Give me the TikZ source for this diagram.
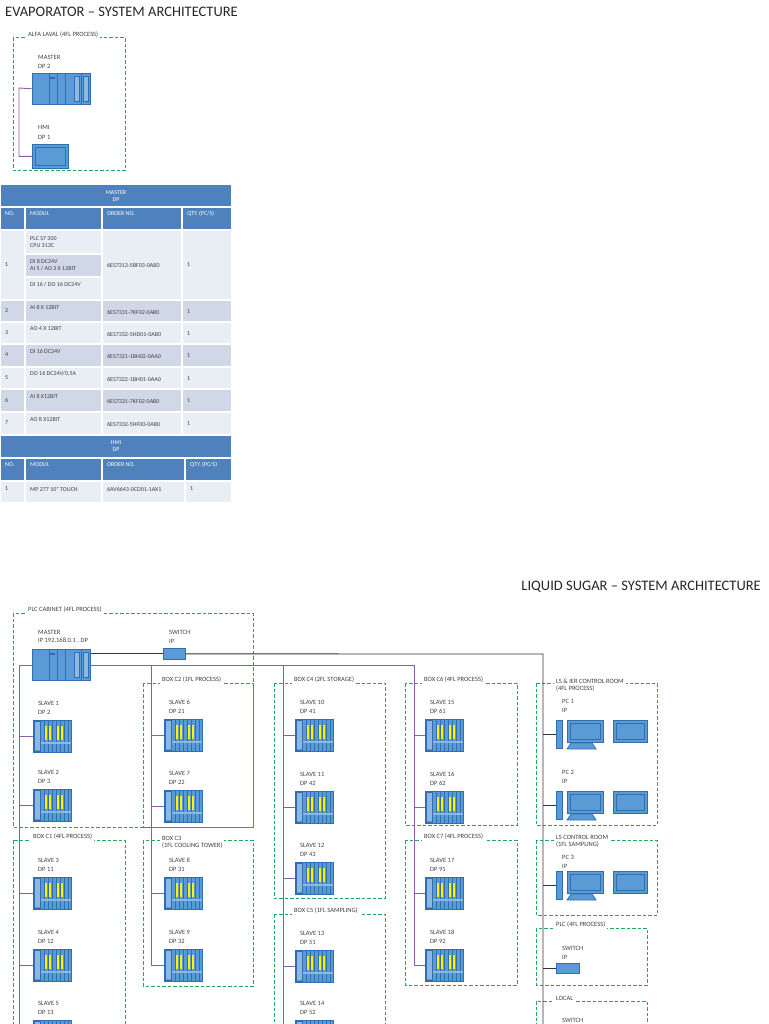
\documentclass[tikz,border=0pt]{standalone}
\usepackage{fontspec}
\setmainfont{Carlito}
\definecolor{plcb}{HTML}{5B9BD5}
\definecolor{plcd}{HTML}{2F6EB5}
\definecolor{plcl}{HTML}{8DB8E2}
\definecolor{grn}{HTML}{1FAA5A}
\definecolor{purp}{HTML}{8B5DAA}
\definecolor{thd}{HTML}{4F81BD}
\definecolor{tlt}{HTML}{E9EDF4}
\definecolor{tmd}{HTML}{D0D8E8}
\definecolor{txt}{HTML}{404040}
\tikzset{
 lbl/.style={anchor=west,text=txt,font=\fontsize{6.5}{7.5}\selectfont,inner sep=0pt},
 zone/.style={draw=grn,line width=1pt,dash pattern=on 3.5pt off 2pt},
 zlbl/.style={anchor=south west,fill=white,text=txt,font=\fontsize{6.5}{7.5}\selectfont,inner xsep=2pt,inner ysep=2pt,align=left},
 slavebox/.style={draw=plcd,fill=plcb,minimum width=38pt,minimum height=32pt,inner sep=0pt,line width=0.6pt},
 masterbox/.style={draw=plcd,fill=plcb,minimum width=58pt,minimum height=31pt,inner sep=0pt,line width=0.6pt},
 purpl/.style={draw=purp,line width=0.9pt},
 blk/.style={draw=black!80,line width=0.9pt},
 tcell/.style={draw=white,line width=1.2pt},
 thtxt/.style={text=white,font=\fontsize{6}{7}\selectfont,inner sep=0pt,align=center},
 ttxt/.style={anchor=west,text=txt,font=\fontsize{6}{7}\selectfont,inner sep=0pt,align=left},
 pcpart/.style={draw=plcd,fill=plcb,line width=0.8pt},
}
\newcommand\slv[3]{%
 \node[slavebox,anchor=north west] (#1) at (#2,#3) {};
 \begin{scope}[shift={(#2,#3)}]
  \fill[plcl] (1,2) rectangle (7,30);
  \draw[plcd,line width=0.5pt] (1,1) rectangle (7,31);
  \foreach \xx in {11,15,19,23,27,31,35} \draw[plcd,line width=0.5pt] (\xx,0)--(\xx,32);
  \fill[plcl] (7.5,22) rectangle (37.5,24);
  \foreach \xx in {12,16,24,28} \fill[yellow] (\xx,6) rectangle (\xx+2.2,20);
 \end{scope}}
\newcommand\mstr[3]{%
 \node[masterbox,anchor=north west] (#1) at (#2,#3) {};
 \begin{scope}[shift={(#2,#3)}]
  \foreach \xx in {17,25,33,49} \draw[plcd,line width=0.5pt] (\xx,0)--(\xx,31);
  \fill[plcl] (42,3) rectangle (47,28);
  \fill[plcl] (51,3) rectangle (56,28);
  \draw[plcd,line width=0.5pt] (42,3) rectangle (47,28) (51,3) rectangle (56,28);
  \fill[plcd] (18,4) rectangle (23,6);
 \end{scope}}
\newcommand\pcu[3]{%
 \node[pcpart,anchor=north west,minimum width=6pt,minimum height=28pt,inner sep=0pt] (#1) at (#2,#3) {};
 \begin{scope}[shift={(#2,#3)}]
  \draw[pcpart] (15,23) -- (36,23) -- (40,29) -- (11,29) -- cycle;
  \draw[pcpart] (11,0) rectangle (47,22);
  \draw[plcd,line width=0.6pt] (14,3) rectangle (44,19);
  \draw[pcpart] (57,0) rectangle (91,22);
  \draw[plcd,line width=0.6pt] (60,3) rectangle (88,19);
 \end{scope}}
\begin{document}
\begin{tikzpicture}[x=1pt,y=-1pt]
\useasboundingbox (0,0) rectangle (768,1024);
% ---------- Evaporator ----------
\node[anchor=west,inner sep=0pt,font=\fontsize{14.5}{16}\selectfont,text=black!85] (t1) at (5,12) {EVAPORATOR -- SYSTEM ARCHITECTURE};
\draw[zone] (13,38) rectangle (125,171);
\node[zlbl] (z0) at (26,40) {ALFA LAVAL (4FL PROCESS)};
\node[lbl] (m0a) at (38,57) {MASTER};
\node[lbl] (m0b) at (38,66) {DP 2};
\mstr{m0}{32}{73}
\node[lbl] (h0a) at (38,127) {HMI};
\node[lbl] (h0b) at (38,137) {DP 1};
\node[pcpart,anchor=north west,minimum width=36pt,minimum height=24pt,inner sep=0pt] (hmi) at (32,144) {};
\draw[plcd,line width=0.6pt] (35,147) rectangle (65,165);
\draw[purpl] (m0.west) -- (19,88) |- (hmi.west);
% ---------- Table ----------
\fill[thd] (0,184) rectangle (232,207);
\draw[tcell] (0,184) rectangle (232,207);
\node[thtxt] (th1) at (116,196) {MASTER\\DP};
\foreach \a/\b/\t in {0/25/NO., 25/102/MODUL, 102/182/ORDER NO., 182/232/{QTY. (PC/S)}} {
  \draw[tcell,fill=thd] (\a,207) rectangle (\b,230);
  \node[ttxt,text=white] at (\a+5,214) {\t};
}
\draw[tcell,fill=tlt] (0,230) rectangle (25,300);
\draw[tcell,fill=tlt] (25,230) rectangle (102,254);
\draw[tcell,fill=tmd] (25,254) rectangle (102,277);
\draw[tcell,fill=tlt] (25,277) rectangle (102,300);
\draw[tcell,fill=tlt] (102,230) rectangle (182,300);
\draw[tcell,fill=tlt] (182,230) rectangle (232,300);
\node[ttxt] at (5,265) {1};
\node[ttxt] at (30,242) {PLC S7 300\\CPU 313C};
\node[ttxt] at (30,265) {DI 8 DC24V\\AI 5 / AO 2 X 12BIT};
\node[ttxt] at (30,285) {DI 16 / DO 16 DC24V};
\node[ttxt] at (107,265) {6ES7313-5BF03-0AB0};
\node[ttxt] at (187,265) {1};
\foreach \n/\ya/\yb/\m/\o/\c in {2/300/322/{AI 8 X  12BIT}/{6ES7331-7KF02-0AB0}/tmd,
  3/322/344/{AO 4 X 12BIT}/{6ES7332-5HD01-0AB0}/tlt,
  4/344/367/{DI 16 DC24V}/{6ES7321-1BH02-0AA0}/tmd,
  5/367/389/{DO 16 DC24V/0,5A}/{6ES7322-1BH01-0AA0}/tlt,
  6/389/412/{AI 8 X12BIT}/{6ES7331-7KF02-0AB0}/tmd,
  7/412/435/{AO 8 X12BIT}/{6ES7332-5HF00-0AB0}/tlt} {
  \foreach \a/\b in {0/25,25/102,102/182,182/232} \draw[tcell,fill=\c] (\a,\ya) rectangle (\b,\yb);
  \node[ttxt] at (5,\ya+11) {\n};
  \node[ttxt] at (30,\ya+7) {\m};
  \node[ttxt] at (107,\ya+12) {\o};
  \node[ttxt] at (187,\ya+12) {1};
}
\fill[thd] (0,435) rectangle (232,458);
\draw[tcell] (0,435) rectangle (232,458);
\node[thtxt] (th2) at (116,446) {HMI\\DP};
\foreach \a/\b/\t in {0/25/NO., 25/102/MODUL, 102/185/ORDER NO., 185/232/{QTY. (PC/S)}} {
  \draw[tcell,fill=thd] (\a,458) rectangle (\b,481);
  \node[ttxt,text=white] at (\a+5,465) {\t};
  \draw[tcell,fill=tlt] (\a,481) rectangle (\b,503);
}
\node[ttxt] at (5,489) {1};
\node[ttxt] at (30,489) {MP 277 10" TOUCH};
\node[ttxt] at (107,489) {6AV6643-0CD01-1AX1};
\node[ttxt] at (190,489) {1};
% ---------- Liquid sugar ----------
\node[anchor=east,inner sep=0pt,font=\fontsize{14.5}{16}\selectfont,text=black!85] (t2) at (761,587) {LIQUID SUGAR -- SYSTEM ARCHITECTURE};
% zones
\draw[zone] (13,613) rectangle (253,827);
\node[zlbl] at (26,615) {PLC CABINET (4FL PROCESS)};
\draw[zone] (13,840) rectangle (125,1030);
\node[zlbl] at (31,842) {BOX C1 (4FL PROCESS)};
\draw[zone] (143,683) rectangle (253,827);
\node[zlbl] at (160,685) {BOX C2 (1FL PROCESS)};
\draw[zone] (143,840) rectangle (253,986);
\node[zlbl] at (160,851) {BOX C3\\(1FL COOLING TOWER)};
\draw[zone] (274,683) rectangle (385,898);
\node[zlbl] at (292,685) {BOX C4 (2FL STORAGE)};
\draw[zone] (274,914) rectangle (385,1030);
\node[zlbl] at (292,916) {BOX C5 (1FL SAMPLING)};
\draw[zone] (405,683) rectangle (517,825);
\node[zlbl] at (422,685) {BOX C6 (4FL PROCESS)};
\draw[zone] (405,840) rectangle (517,985);
\node[zlbl] at (422,842) {BOX C7 (4FL PROCESS)};
\draw[zone] (536,683) rectangle (657,825);
\node[zlbl] at (554,694) {LS \&  IER CONTROL ROOM\\(4FL PROCESS)};
\draw[zone] (536,840) rectangle (657,915);
\node[zlbl] at (554,850) {LS CONTROL ROOM\\(1FL SAMPLING)};
\draw[zone] (536,928) rectangle (647,985);
\node[zlbl] at (554,930) {PLC (4FL PROCESS)};
\draw[zone] (536,1001) rectangle (647,1030);
\node[zlbl] at (554,1003) {LOCAL};
% master and switch
\node[lbl] at (38,632) {MASTER};
\node[lbl] at (38,641) {IP 192.168.0.1 , DP};
\mstr{m1}{32}{649}
\node[lbl] at (169,632) {SWITCH};
\node[lbl] at (169,641) {IP};
\node[pcpart,anchor=north west,minimum width=22pt,minimum height=11pt,inner sep=0pt] (sw1) at (163,648) {};
% slaves
\foreach \nm/\x/\y/\s/\d in {s1/33/720/1/2, s2/33/789/2/3, s3/33/877/3/11, s4/33/949/4/12, s5/33/1020/5/13,
  s6/164/719/6/21, s7/164/790/7/22, s8/164/877/8/31, s9/164/949/9/32,
  s10/295/719/10/41, s11/295/791/11/42, s12/295/862/12/43, s13/295/950/13/51, s14/295/1020/14/52,
  s15/425/719/15/61, s16/425/791/16/62, s17/425/877/17/91, s18/425/949/18/92} {
  \slv{\nm}{\x}{\y}
  \node[lbl] at (\x+5,\y-17) {SLAVE \s};
  \node[lbl] at (\x+5,\y-8) {DP \d};
}
% PCs
\node[lbl] at (562,701) {PC 1};
\node[lbl] at (562,710) {IP};
\pcu{pc1}{556}{720}
\node[lbl] at (562,772) {PC 2};
\node[lbl] at (562,781) {IP};
\pcu{pc2}{556}{791}
\node[lbl] at (562,857) {PC 3};
\node[lbl] at (562,866) {IP};
\pcu{pc3}{556}{871}
\node[lbl] at (562,948) {SWITCH};
\node[lbl] at (562,957) {IP};
\node[pcpart,anchor=north west,minimum width=23pt,minimum height=10pt,inner sep=0pt] (sw2) at (556,963) {};
\node[lbl] at (562,1020) {SWITCH};
% black ethernet
\coordinate (bt) at (543,654);
\coordinate (bb) at (543,1024);
\draw[blk] (m1.east |- sw1.west) -- (sw1.west);
\draw[blk] (sw1.east) -- (bt) -- (bb);
\foreach \p in {pc1,pc2,pc3,sw2} \draw[blk] (\p.west) -- (bt |- \p.west);
% purple profibus
\coordinate (pr) at (414,665);
\coordinate (tA) at (19,665);
\coordinate (tB) at (151,665);
\coordinate (tC) at (283,665);
\draw[purpl] (m1.east |- pr) -- (pr) -- (pr |- s18.west);
\draw[purpl] (m1.west |- pr) -- (tA) -- (19,1024);
\draw[purpl] (tB) -- (tB |- s9.west);
\draw[purpl] (tC) -- (283,1024);
\foreach \s in {s1,s2,s3,s4} \draw[purpl] (\s.west) -- (tA |- \s.west);
\foreach \s in {s6,s7,s8,s9} \draw[purpl] (\s.west) -- (tB |- \s.west);
\foreach \s in {s10,s11,s12,s13} \draw[purpl] (\s.west) -- (tC |- \s.west);
\foreach \s in {s15,s16,s17,s18} \draw[purpl] (\s.west) -- (pr |- \s.west);
\end{tikzpicture}
\end{document}
